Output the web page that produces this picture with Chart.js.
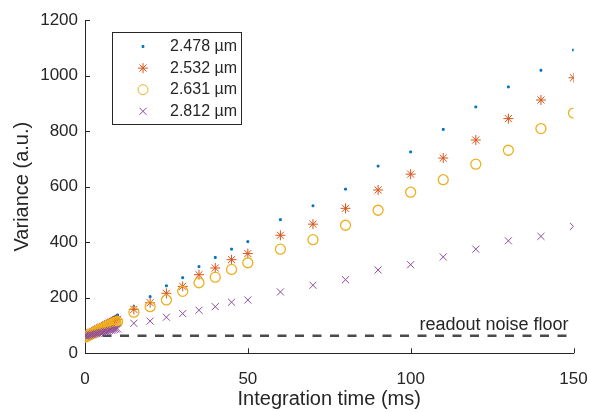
<!DOCTYPE html>
<html>
<head>
<meta charset="utf-8">
<script src="https://cdn.jsdelivr.net/npm/chart.js@4.4.1/dist/chart.umd.min.js"></script>
<style>
  html, body { margin: 0; padding: 0; background: #fff; }
  #wrap { width: 589px; height: 412px; }
</style>
</head>
<body>
<div id="wrap"><canvas id="c" width="589" height="412"></canvas></div>
<script>
// ---- data ----
const timesMs = [0,0.5,1,1.5,2,2.5,3,3.5,4,4.5,5,5.5,6,6.5,7,7.5,8,8.5,9,9.5,10,
                 15,20,25,30,35,40,45,50,60,70,80,90,100,110,120,130,140,150];
const var2478 = [66,70,73,77,80,84,87,91,94,98,101,105,108,112,115,119,122,126,130,134,138,
                 168,204,243,272,312,345,375,402,481,531,591,674,725,806,887,959,1019,1092];
const var2532 = [64,67,70,73,76,79,82,85,88,91,94,97,100,103,106,109,112,115,118,120,122,
                 158,182,216,241,283,307,337,359,425,465,522,588,645,703,768,845,912,992];
const var2631 = [58,61,64,67,70,73,76,79,82,85,88,90,93,96,98,101,104,107,110,112,114,
                 148,168,192,223,254,274,302,326,375,409,461,515,580,625,681,731,809,865];
const var2812 = [62,63,64,66,67,68,70,71,72,74,75,76,78,79,80,82,83,84,86,87,88,
                 108,116,130,143,155,168,184,192,221,245,265,300,319,347,375,405,421,457];
const seriesLabels = ['2.478 µm', '2.532 µm', '2.631 µm', '2.812 µm'];
const noiseFloor = 63;
const noiseX = [0, 150];
const noiseLabel = 'readout noise floor';
const xTicks = [0, 50, 100, 150];
const yTicks = [0, 200, 400, 600, 800, 1000, 1200];

const FONT = '"Liberation Sans", Arial, Helvetica, sans-serif';
const TXT = '#262626';

function pts(xs, ys) { return xs.map((x, i) => ({x: x, y: ys[i]})); }

const datasets = [
  { label: seriesLabels[0], data: pts(timesMs, var2478), pointStyle: 'rect', pointRadius: 1.3,
    backgroundColor: '#0072BD', borderColor: '#0072BD', pointBorderWidth: 1, order: 4, showLine: false },
  { label: seriesLabels[1], data: pts(timesMs, var2532), pointStyle: 'star', pointRadius: 5,
    backgroundColor: 'transparent', borderColor: '#D95319', pointBorderWidth: 1, order: 3, showLine: false },
  { label: seriesLabels[2], data: pts(timesMs, var2631), pointStyle: 'circle', pointRadius: 5,
    backgroundColor: 'transparent', borderColor: '#EDB120', pointBorderWidth: 1.3, order: 2, showLine: false },
  { label: seriesLabels[3], data: pts(timesMs, var2812), pointStyle: 'crossRot', pointRadius: 5,
    backgroundColor: 'transparent', borderColor: '#8E4A9E', pointBorderWidth: 1, order: 1, showLine: false },
  { label: 'noise', data: noiseX.map(x => ({x: x, y: noiseFloor})), showLine: true, pointRadius: 0,
    borderColor: '#4a4a4a', borderWidth: 2.5, borderDash: [9, 8.5], order: 5 }
];

const extras = {
  id: 'extras',
  afterDatasetsDraw(chart) {
    const ctx = chart.ctx;
    const xs = chart.scales.x, ys = chart.scales.y;
    const L = chart.chartArea.left, B = chart.chartArea.bottom;
    ctx.save();
    // inward ticks
    ctx.strokeStyle = TXT; ctx.lineWidth = 1;
    ctx.beginPath();
    yTicks.forEach(v => { const py = Math.round(ys.getPixelForValue(v)) + 0.5; ctx.moveTo(L, py); ctx.lineTo(L + 5, py); });
    xTicks.forEach(v => { const px = Math.round(xs.getPixelForValue(v)) + 0.5; ctx.moveTo(px, B); ctx.lineTo(px, B - 5); });
    ctx.stroke();
    // noise floor label
    ctx.fillStyle = TXT;
    ctx.font = '18px ' + FONT;
    ctx.textAlign = 'right'; ctx.textBaseline = 'middle';
    ctx.fillText(noiseLabel, xs.getPixelForValue(noiseX[1]) - 5, ys.getPixelForValue(noiseFloor) - 11);
    // legend
    const bx = 112.5, by = 32.5, bw = 129, bh = 92;
    ctx.fillStyle = '#ffffff';
    ctx.fillRect(bx, by, bw, bh);
    ctx.strokeStyle = TXT; ctx.lineWidth = 1;
    ctx.strokeRect(bx, by, bw, bh);
    ctx.font = '16px ' + FONT;
    ctx.textAlign = 'left'; ctx.textBaseline = 'middle';
    for (let i = 0; i < 4; i++) {
      const ds = chart.data.datasets[i];
      const yy = 46.5 + i * 21.6;
      ctx.strokeStyle = ds.borderColor; ctx.fillStyle = ds.backgroundColor;
      Chart.helpers.drawPoint(ctx, { pointStyle: ds.pointStyle, radius: ds.pointRadius, borderWidth: ds.pointBorderWidth, rotation: 0 }, 143, yy);
      ctx.fillStyle = TXT;
      ctx.fillText(ds.label, 170, yy);
    }
    ctx.restore();
  }
};

Chart.defaults.font.family = FONT;
Chart.defaults.color = TXT;

new Chart(document.getElementById('c'), {
  type: 'scatter',
  data: { datasets: datasets },
  options: {
    responsive: false,
    animation: false,
    layout: { padding: { left: 0, right: 15.5, top: 20, bottom: 0 } },
    plugins: { legend: { display: false }, tooltip: { enabled: false } },
    scales: {
      x: {
        type: 'linear', min: 0, max: 150,
        afterBuildTicks: s => { s.ticks = xTicks.map(v => ({value: v})); },
        afterFit: s => { s.height = 58.7; s.paddingLeft = 0; s.paddingRight = 0; },
        grid: { display: true, drawOnChartArea: false, drawTicks: false },
        border: { display: true, color: TXT, width: 1 },
        ticks: { padding: 16, color: TXT, font: { size: 17 }, maxRotation: 0, callback: v => String(v) },
        title: { display: true, text: 'Integration time (ms)', color: TXT, font: { size: 20 }, padding: { top: 0, bottom: 1 } }
      },
      y: {
        type: 'linear', min: 0, max: 1200,
        afterBuildTicks: s => { s.ticks = yTicks.map(v => ({value: v})); },
        afterFit: s => { s.width = 85; s.paddingTop = 0; s.paddingBottom = 0; },
        grid: { display: true, drawOnChartArea: false, drawTicks: false },
        border: { display: true, color: TXT, width: 1 },
        ticks: { padding: 7, color: TXT, font: { size: 17 }, callback: v => String(v) },
        title: { display: true, text: 'Variance (a.u.)', color: TXT, font: { size: 20 }, padding: { top: 10, bottom: 0 } }
      }
    }
  },
  plugins: [extras]
});
</script>
</body>
</html>
